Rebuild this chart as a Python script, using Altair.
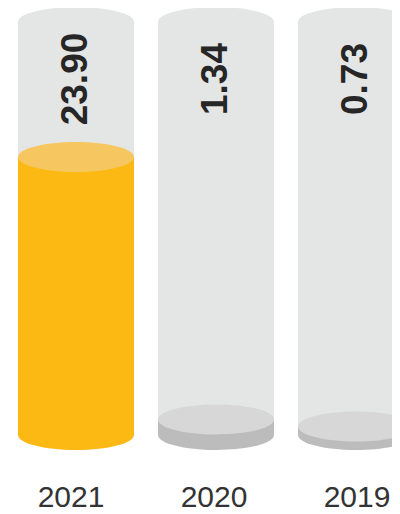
import altair as alt
import pandas as pd

# ---- data ----
years = ["2021", "2020", "2019"]
values = [23.90, 1.34, 0.73]
capacity = 35.5
side_colors = ["#fdb913", "#bcbcbc", "#bcbcbc"]
top_colors = ["#f6c760", "#d7d7d7", "#d7d7d7"]
shell_color = "#e4e5e5"

df = pd.DataFrame({
    "year": years,
    "value": values,
    "cap": [capacity] * len(years),
    "side": side_colors,
    "top": top_colors,
})

# ellipse symbol (unit width 2, height ratio 15/58)
K = 15 / 58
C = 0.5523
ellipse = (
    f"M -1 0 C -1 {-K*C:.4f} {-C} {-K:.4f} 0 {-K:.4f} "
    f"C {C} {-K:.4f} 1 {-K*C:.4f} 1 0 "
    f"C 1 {K*C:.4f} {C} {K:.4f} 0 {K:.4f} "
    f"C {-C} {K:.4f} -1 {K*C:.4f} -1 0 Z"
)
ell_size = 116 * 116

xs = alt.X("year:N", sort=years, axis=None,
           scale=alt.Scale(type="point", range=[68, 348], padding=0))
ysc = alt.Scale(domain=[0, capacity])

base = alt.Chart(df)

shell_body = base.mark_bar(width=116, color=shell_color).encode(
    x=xs, y=alt.Y("cap:Q", scale=ysc, axis=None)
)
shell_top = base.mark_point(shape=ellipse, size=ell_size, filled=True,
                            opacity=1, strokeWidth=0, color=shell_color).encode(
    x=xs, y=alt.Y("cap:Q", scale=ysc, axis=None)
)
fill_bottom = base.mark_point(shape=ellipse, size=ell_size, filled=True,
                              opacity=1, strokeWidth=0).encode(
    x=xs, y=alt.Y(datum=0, scale=ysc, axis=None),
    color=alt.Color("side:N", scale=None)
)
fill_body = base.mark_bar(width=116).encode(
    x=xs, y=alt.Y("value:Q", scale=ysc, axis=None),
    color=alt.Color("side:N", scale=None)
)
fill_top = base.mark_point(shape=ellipse, size=ell_size, filled=True,
                           opacity=1, strokeWidth=0).encode(
    x=xs, y=alt.Y("value:Q", scale=ysc, axis=None),
    color=alt.Color("top:N", scale=None)
)
value_labels = base.mark_text(angle=270, align="center", baseline="middle",
                              dx=-57, fontSize=37, fontWeight="bold",
                              font="Liberation Sans", color="#262626").encode(
    x=xs, y=alt.Y("cap:Q", scale=ysc, axis=None),
    text=alt.Text("value:Q", format=".2f")
)

cylinders = alt.layer(shell_body, shell_top, fill_bottom, fill_body, fill_top, value_labels)

year_labels = base.mark_text(baseline="top", dy=48, fontSize=30,
                             font="Liberation Sans", color="#333333").encode(
    x=alt.X("year:N", sort=years, axis=None,
            scale=alt.Scale(type="point", range=[63, 349], padding=0)),
    y=alt.Y(datum=0, scale=ysc, axis=None),
    text="year:N"
)

chart = alt.layer(cylinders, year_labels).resolve_scale(x="independent").properties(
    width=384, height=413,
    padding={"left": 0, "top": 14, "right": 0, "bottom": 79},
    autosize=alt.AutoSizeParams(type="none"),
).configure_view(stroke=None)

chart.save("out.html", embed_options={"renderer": "svg", "actions": False})
